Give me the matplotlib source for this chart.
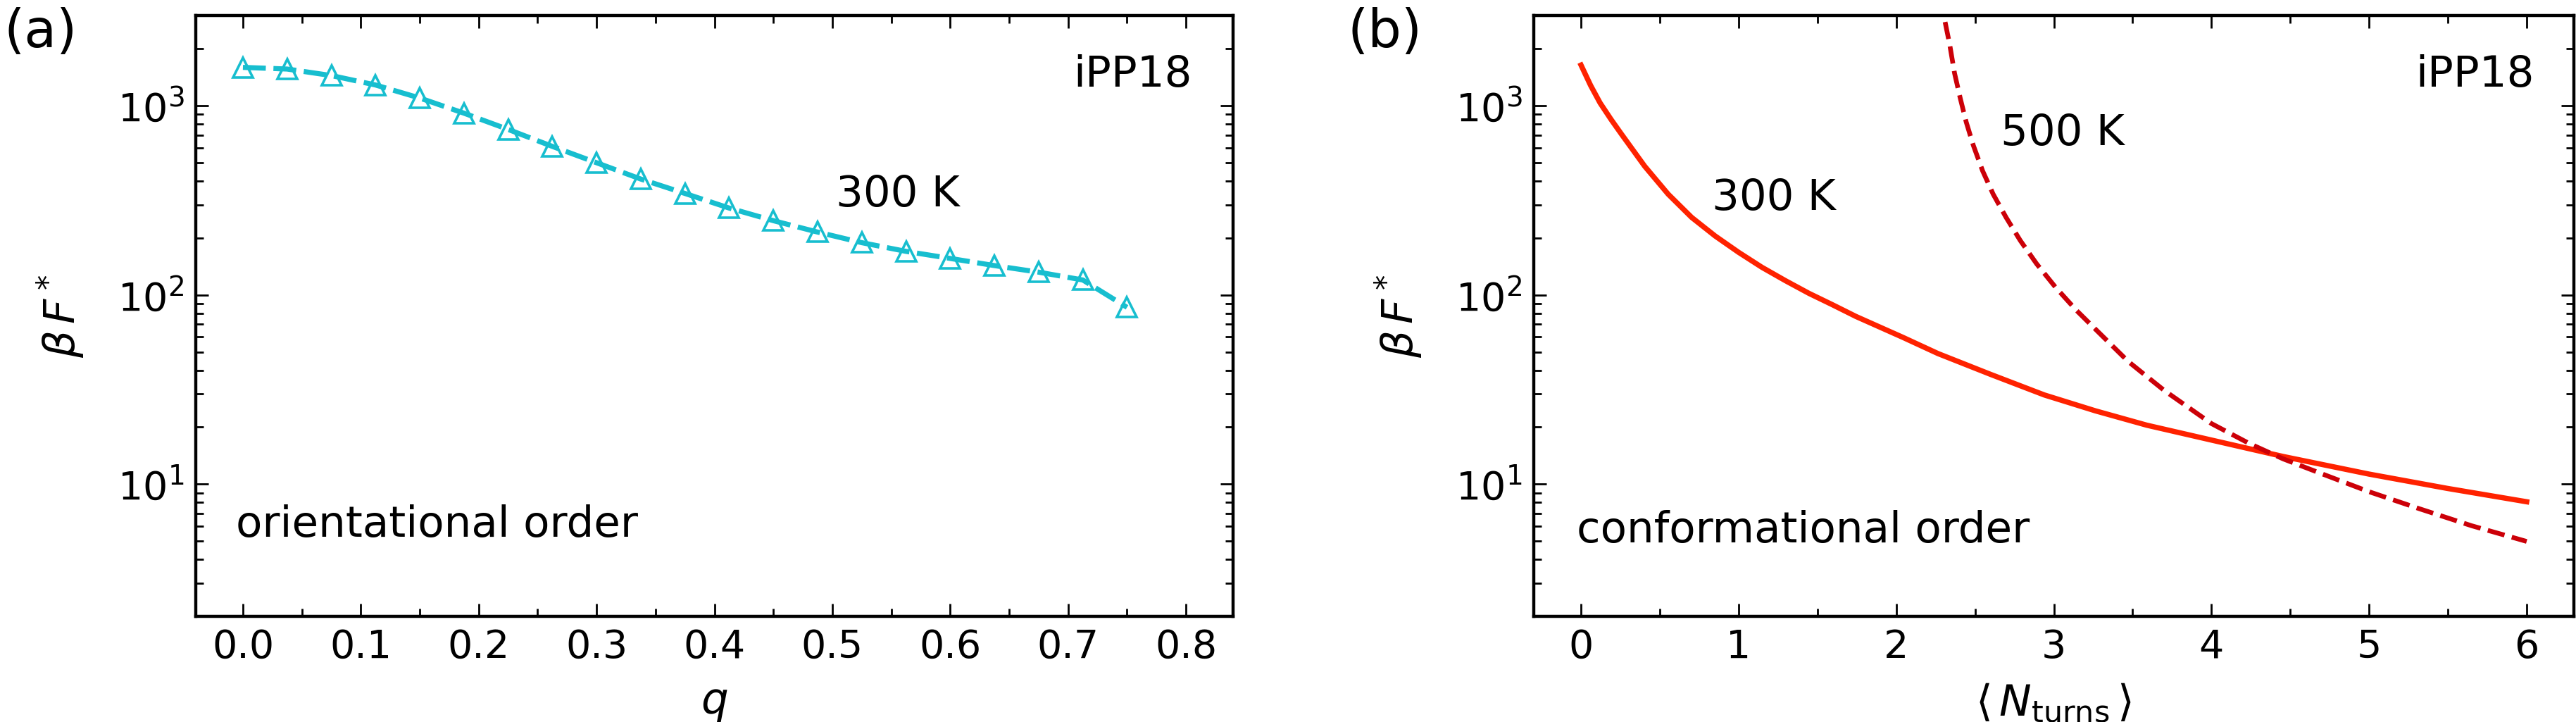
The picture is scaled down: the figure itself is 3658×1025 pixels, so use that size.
import numpy as np
import matplotlib
matplotlib.use("Agg")
import matplotlib.pyplot as plt
from matplotlib.ticker import MultipleLocator, LogLocator

# panel (a): orientational order, 300 K ##########################################################
q_vals = [0.0, 0.0375, 0.075, 0.1125, 0.15, 0.1875, 0.225, 0.2625, 0.3, 0.3375, 0.375,
          0.4125, 0.45, 0.4875, 0.525, 0.5625, 0.6, 0.6375, 0.675, 0.7125, 0.75]
bf_orient_300 = [1596, 1564, 1445, 1288, 1099, 914, 750, 610, 500, 410, 344,
                 288, 247, 215, 189, 170, 156, 143, 132, 120, 86]

# panel (b): conformational order ################################################################
nturns_300 = [0.0, 0.061, 0.121, 0.19, 0.255, 0.404, 0.553, 0.702, 0.851, 1.0, 1.148,
              1.297, 1.446, 1.595, 1.744, 1.893, 2.042, 2.265, 2.6, 2.94, 3.264, 3.589,
              4.0, 4.455, 5.0, 5.495, 6.0]
bf_conf_300 = [1641, 1280, 1035, 848, 711, 479, 341, 257, 205, 168, 140,
               119, 102, 88.8, 77, 67.8, 59.7, 49, 38, 29.6, 24.4, 20.5,
               17.1, 14.0, 11.3, 9.5, 8.07]

nturns_500 = [2.310, 2.340, 2.370, 2.407, 2.444, 2.489, 2.548, 2.615, 2.697, 2.787,
              2.891, 3.010, 3.144, 3.278, 3.472, 3.70, 4.0, 4.24, 4.455, 4.67,
              5.0, 5.32, 5.65, 6.0]
bf_conf_500 = [2773, 2089, 1486, 1089, 820, 618, 453, 341, 257, 194,
               146, 110, 82.8, 64.2, 44.5, 31.3, 20.9, 16.4, 13.6, 11.6,
               9.12, 7.41, 6.03, 4.98]

CYAN = "#17becf"
RED = "#ff2200"
DARKRED = "#cc0008"
TXT = 22


def style_axes(ax):
    ax.set_yscale("log")
    ax.set_ylim(2, 3000)
    ax.yaxis.set_major_locator(LogLocator(base=10, numticks=10))
    ax.yaxis.set_minor_locator(LogLocator(base=10, subs=np.arange(2, 10), numticks=20))
    ax.tick_params(which="both", direction="in", top=True, right=True, labelsize=20)
    ax.tick_params(which="major", length=6.5, width=1.0, pad=6)
    ax.tick_params(which="minor", length=4, width=1.0)
    for s in ax.spines.values():
        s.set_linewidth(1.6)
    ax.set_ylabel(r"$\beta\,F^*$", fontsize=22, labelpad=16)


fig = plt.figure(figsize=(18.29, 5.125), dpi=200)
ax1 = fig.add_axes([0.076, 0.1463, 0.4027, 0.8322])
ax2 = fig.add_axes([0.5954, 0.1463, 0.4038, 0.8322])

# (a)
ax1.plot(q_vals, bf_orient_300, color=CYAN, lw=2.6, dashes=(4.5, 1.5), marker="^", ms=10,
         mfc="none", mec=CYAN, mew=1.3)
style_axes(ax1)
ax1.set_xlim(-0.04, 0.84)
ax1.xaxis.set_major_locator(MultipleLocator(0.1))
ax1.xaxis.set_minor_locator(MultipleLocator(0.05))
ax1.set_xlabel(r"$q$", fontsize=22, labelpad=8)
ax1.text(0.96, 0.882, "iPP18", transform=ax1.transAxes, ha="right", va="baseline", fontsize=TXT)
ax1.text(0.617, 0.682, "300 K", transform=ax1.transAxes, va="baseline", fontsize=TXT)
ax1.text(0.039, 0.132, "orientational order", transform=ax1.transAxes, va="baseline", fontsize=TXT)

# (b)
ax2.plot(nturns_300, bf_conf_300, "-", color=RED, lw=2.7)
ax2.plot(nturns_500, bf_conf_500, "--", color=DARKRED, lw=2.4)
style_axes(ax2)
ax2.set_xlim(-0.3, 6.3)
ax2.xaxis.set_major_locator(MultipleLocator(1))
ax2.xaxis.set_minor_locator(MultipleLocator(0.5))
ax2.set_xlabel(r"$\langle\, N_{\rm turns}\, \rangle$", fontsize=22, labelpad=8)
ax2.text(0.962, 0.882, "iPP18", transform=ax2.transAxes, ha="right", va="baseline", fontsize=TXT)
ax2.text(0.171, 0.677, "300 K", transform=ax2.transAxes, va="baseline", fontsize=TXT)
ax2.text(0.449, 0.784, "500 K", transform=ax2.transAxes, va="baseline", fontsize=TXT)
ax2.text(0.041, 0.123, "conformational order", transform=ax2.transAxes, va="baseline", fontsize=TXT)

# panel labels
fig.text(0.0014, 0.935, "(a)", fontsize=27, va="baseline")
fig.text(0.523, 0.935, "(b)", fontsize=27, va="baseline")

fig.savefig("out.png", dpi=200)
